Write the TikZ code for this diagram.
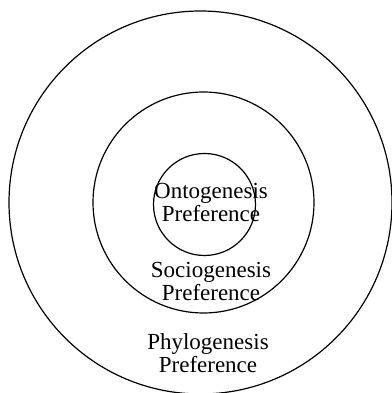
\documentclass[tikz,border=0pt]{standalone}
\usepackage{fontspec}
\setmainfont{Liberation Serif}
\begin{document}
\begin{tikzpicture}[x=1pt,y=1pt,
  ring/.style={circle, draw=black, line width=1.2pt, inner sep=0pt, outer sep=0pt},
  label/.style={align=center, inner sep=0pt, font=\fontsize{23}{23}\selectfont}]
  \useasboundingbox (0,0) rectangle (391,393);
  % nested circles
  \node[ring, minimum size=383pt] (phylo) at (200.5,190.5) {};
  \node[ring, minimum size=221pt] (socio) at (203.5,190.5) {};
  \node[ring, minimum size=102pt] (onto) at (204.5,188.5) {};
  % captions
  \node[label] (ontotext)  at (211,190) {Ontogenesis\\Preference};
  \node[label] (sociotext) at (211,112) {Sociogenesis\\Preference};
  \node[label] (phylotext) at (208,39.5) {Phylogenesis\\Preference};
\end{tikzpicture}
\end{document}
